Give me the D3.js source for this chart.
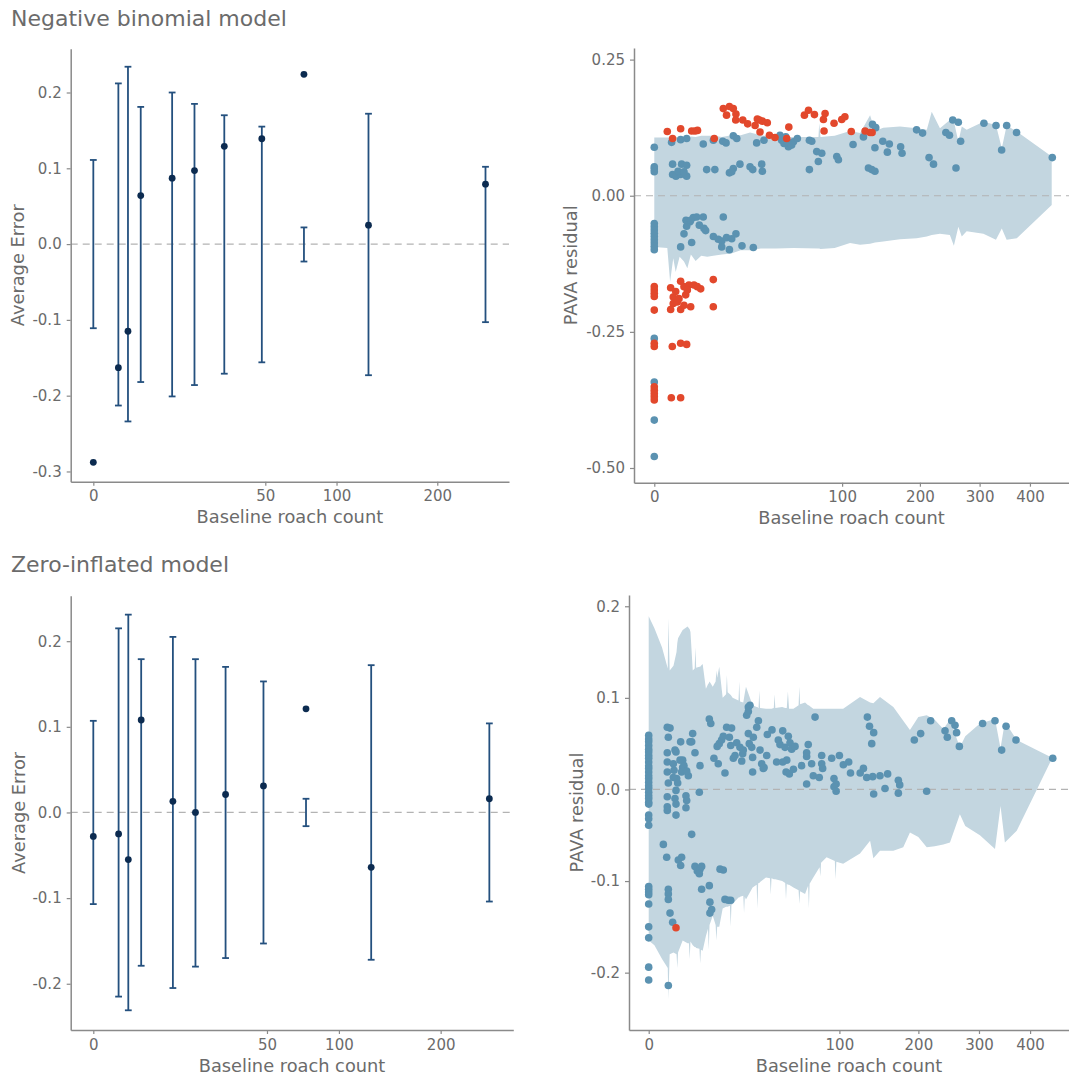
<!DOCTYPE html>
<html><head><meta charset="utf-8">
<script src="https://cdn.jsdelivr.net/npm/d3@7"></script>
<style>
body{margin:0;background:#fff}
svg{display:block}
text{font-family:"DejaVu Sans",sans-serif}
</style></head>
<body><svg id="c" width="1069" height="1076"></svg>
<script>
// ---------------- data ----------------
const binX = [0, 1.06, 2.03, 3.8, 10.5, 17.3, 29, 48, 75, 128, 260];
const nbErr = [-0.288, -0.163, -0.115, 0.064, 0.087, 0.097, 0.129, 0.139, 0.224, 0.025, 0.079];
const nbLo  = [-0.111, -0.213, -0.234, -0.182, -0.201, -0.186, -0.171, -0.156, -0.023, -0.173, -0.103];
const nbHi  = [0.111, 0.212, 0.234, 0.181, 0.200, 0.185, 0.170, 0.155, 0.022, 0.172, 0.102];
const ziErr = [-0.028, -0.025, -0.055, 0.108, 0.013, 0.000, 0.021, 0.031, 0.121, -0.064, 0.016];
const ziLo  = [-0.107, -0.215, -0.231, -0.179, -0.205, -0.180, -0.170, -0.153, -0.016, -0.172, -0.104];
const ziHi  = [0.107, 0.215, 0.231, 0.179, 0.205, 0.179, 0.170, 0.153, 0.016, 0.172, 0.104];

const leftXTicks = [0, 50, 100, 200];
const rightXTicks = [0, 100, 200, 300, 400];
const nbErrTicks = [-0.3, -0.2, -0.1, 0, 0.1, 0.2];
const ziErrTicks = [-0.2, -0.1, 0, 0.1, 0.2];
const nbPavaTicks = [-0.5, -0.25, 0, 0.25];
const ziPavaTicks = [-0.2, -0.1, 0, 0.1, 0.2];

// consistency band, negative binomial
const nbBandX  = [0,0.48,0.71,1.02,1.30,1.82,2.50,3.10,3.80,4.84,6.25,7.95,9.86,12.96,16.81,21.16,26.01,32.15,42.25,54.9,76.4,77.1,78.3,92.2,108.6,120.1,132.0,138.1,148.6,171.1,195.2,210.5,218.2,231.3,247.7,254.4,262.1,268.0,276.6,307.0,330.9,342.3,351.9,372.5,447.7];
const nbBandHi = [.107,.107,.107,.106,.108,.106,.108,.107,.109,.108,.110,.110,.110,.108,.111,.111,.116,.111,.108,.108,.108,.133,.108,.110,.119,.115,.148,.119,.125,.127,.124,.121,.154,.124,.139,.137,.099,.127,.121,.136,.130,.087,.129,.118,.072];
const nbBandLo = [-.094,-.096,-.158,-.115,-.140,-.112,-.121,-.133,-.108,-.120,-.110,-.112,-.110,-.108,-.106,-.100,-.100,-.097,-.097,-.096,-.097,-.097,-.098,-.096,-.087,-.090,-.088,-.086,-.084,-.080,-.078,-.075,-.072,-.070,-.072,-.092,-.057,-.075,-.065,-.070,-.081,-.060,-.081,-.078,-.017];

// consistency band, zero-inflated
const ziBandX  = [0,0.09,0.49,1.00,1.06,1.21,1.69,2.13,2.25,2.37,3.17,4.16,4.45,4.62,4.80,5.34,5.81,6.00,6.20,7.08,7.29,7.51,8.01,9.0,9.67,9.92,10.18,11.29,12.32,12.60,12.89,13.69,15.05,16.48,16.81,17.14,18.15,18.49,18.84,19.36,22.18,22.56,22.94,24.60,25.00,25.40,26.01,29.70,32.04,32.49,32.95,33.18,33.64,34.11,37.82,40.45,40.96,41.47,43.03,43.56,44.09,49.0,51.27,51.84,52.42,53.29,54.17,57.61,61.78,62.41,63.04,67.24,69.89,70.56,71.23,74.5,80.28,81.0,81.72,87.0,95.26,96.04,96.83,104.0,122.8,134.8,138.8,147.1,164.6,178.2,187.7,199.9,212.6,225.0,238.7,249.6,266.3,275.6,301.7,329.8,340.4,348.9,372.5,446.5];
const ziBandHi = [.189,.176,.155,.132,.187,.130,.135,.150,.160,.165,.174,.178,.176,.175,.172,.130,.132,.155,.133,.134,.134,.135,.137,.110,.115,.116,.118,.112,.118,.130,.122,.134,.100,.104,.125,.106,.104,.103,.102,.100,.097,.118,.096,.095,.100,.105,.112,.092,.090,.090,.089,.089,.108,.089,.088,.088,.088,.088,.089,.104,.089,.090,.089,.089,.089,.107,.088,.088,.092,.112,.093,.095,.092,.092,.091,.088,.088,.088,.088,.088,.088,.088,.088,.088,.101,.095,.094,.101,.090,.075,.065,.079,.081,.076,.066,.076,.046,.058,.072,.077,.045,.074,.054,.035];
const ziBandLo = [-.165,-.170,-.185,-.195,-.229,-.180,-.178,-.180,-.195,-.178,-.165,-.168,-.168,-.185,-.166,-.170,-.172,-.172,-.173,-.174,-.190,-.175,-.176,-.160,-.152,-.175,-.148,-.138,-.148,-.165,-.150,-.150,-.130,-.128,-.128,-.128,-.127,-.150,-.126,-.125,-.118,-.118,-.117,-.116,-.135,-.117,-.120,-.107,-.104,-.130,-.103,-.102,-.102,-.101,-.096,-.097,-.115,-.097,-.098,-.098,-.098,-.100,-.102,-.120,-.103,-.104,-.104,-.107,-.110,-.125,-.111,-.114,-.105,-.130,-.103,-.096,-.085,-.095,-.080,-.074,-.078,-.098,-.079,-.081,-.070,-.056,-.075,-.067,-.067,-.063,-.047,-.052,-.063,-.062,-.060,-.058,-.027,-.040,-.050,-.065,-.018,-.058,-.045,.033];

// PAVA residuals inside the band [count, residual], negative binomial
const nbInside = [
[0,.089],[0,.053],[0,.049],[0,.044],[0,-.051],[0,-.057],[0,-.063],[0,-.069],[0,-.075],[0,-.081],[0,-.087],[0,-.093],[0,-.099],[0,-.262],[0,-.342],[0,-.412],[0,-.479],
[0.85,.098],[1.97,.103],[2.97,.105],[6.8,.095],[9.9,.102],[13.3,.100],[14.6,.097],[17.7,.110],[19.3,.105],[29.7,.097],[34.1,.102],[44.8,.111],[46,.102],[47.7,.096],[51,.090],[52.3,.095],[54.9,.099],[58,.105],[49,.108],[50,.100],[53.5,.093],[68.2,.102],[70.3,.100],
[112,.094],[124,.108],[135,.131],[139,.125],[138,.088],[148,.100],[156.6,.095],[154,.080],[172,.090],[174,.078],[195,.121],[204,.115],[214,.070],[221,.058],[241,.116],[247,.111],[252.5,.139],[262,.135],[258,.051],[266,.100],[308,.133],[331,.129],[342,.084],[352,.129],[372,.116],[449,.070],
[74.8,.081],[79.5,.078],[76.3,.063],[68.2,.048],[94.4,.072],[96.1,.066],[130,.051],[134,.048],[138,.045],
[0.95,.058],[0.95,.039],[1.33,.036],[2.12,.058],[1.97,.039],[2.97,.056],[2.97,.036],[7.78,.048],[10.4,.048],[16,.042],[17.7,.050],[20.8,.058],[26,.053],[27.5,.048],[32.7,.058],[33.1,.045],[17,.044],[1.6,.045],[2.5,.044],
[2.5,-.070],[2.97,-.056],[3.61,-.048],[4.32,-.040],[5.09,-.039],[5.75,-.054],[6.8,-.039],[7,-.060],[7.48,-.064],[3.96,-.086],[1.97,-.094],[9.9,-.075],[11.6,-.080],[13.5,-.039],[12.9,-.083],[14.8,-.077],[17,-.079],[18.9,-.070],[16,-.099],[12.9,-.094],[21.8,-.092],[27.8,-.095],[2.85,-.045],[3.75,-.045]
];
// PAVA residuals outside the band, negative binomial
const nbOutside = [
[0.48,.118],[0.95,.105],[1.97,.123],[3.96,.119],[4.7,.119],[5.3,.120],[10.2,.105],[13.5,.160],[14.8,.148],[16,.164],[17.7,.160],[18.9,.150],[18.8,.139],[22.2,.139],[24.7,.132],[28.8,.129],[30.1,.141],[31.3,.139],[33.1,.137],[36.2,.134],[31.7,.117],[37.6,.111],[41.3,.107],[51.3,.126],[49.7,.105],[63.9,.148],[67.4,.157],[72.7,.149],[81.1,.140],[82.7,.151],[81.7,.119],[91.6,.133],[99.6,.140],[103,.145],[110,.118],[126,.119],[132,.116],[134.5,.116],
[0,-.167],[0,-.173],[0,-.179],[0,-.185],[0,-.210],[0,-.271],[0,-.277],[0,-.351],[0,-.357],[0,-.363],[0,-.369],[0,-.375],
[0.76,-.169],[1.02,-.186],[1.02,-.198],[0.76,-.209],[1.30,-.176],[1.50,-.195],[1.97,-.157],[1.97,-.209],[2.5,-.167],[2.8,-.182],[3.4,-.164],[3.76,-.204],[4.47,-.164],[5.24,-.167],[6.1,-.171],[3.1,-.173],[1.73,-.189],[2.5,-.201],[9.87,-.154],[9.87,-.204],
[0.92,-.277],[1.97,-.271],[2.97,-.273],[0.82,-.371],[1.97,-.371]
];

// PAVA residuals inside the band, zero-inflated
const ziInside = [
[0,.059],[0,.055],[0,.052],[0,.048],[0,.044],[0,.041],[0,.037],[0,.034],[0,.030],[0,.026],[0,.023],[0,.019],[0,.015],[0,.012],[0,.008],[0,.004],[0,.001],[0,-.003],[0,-.007],[0,-.010],[0,-.014],[0,-.016],[0,-.028],[0,-.032],[0,-.039],[0,-.106],[0,-.109],[0,-.112],[0,-.115],[0,-.125],[0,-.150],[0,-.162],[0,-.194],[0,-.208],
[0.59,-.060],[0.89,-.074],[0.95,.068],[1.06,.057],[0.95,.040],[0.95,.030],[0.95,.019],[1.06,.007],[0.95,-.008],[0.95,-.019],[0.95,-.023],[1.06,-.109],[1.06,-.114],[1.06,-.120],[1.25,-.135],[1.06,-.214],[1.58,-.145],[1.25,.067],
[1.90,.043],[2.05,.041],[1.76,.021],[2.15,.012],[2.05,-.001],[1.90,-.010],[2.05,-.016],[2.05,-.028],[2.41,-.077],[2.98,-.074],[2.81,-.083],[2.81,.052],[3.17,.032],[3.17,.024],[2.98,.019],[3.43,.026],[3.82,-.007],[3.97,-.012],[3.82,-.020],[4.32,.015],[3.97,.020],[2.70,.032],[1.67,.013],[2.31,.007],[1.67,.028],
[4.69,.052],[5.32,.061],[5.08,.052],[5.89,.040],[5.08,-.049],[5.89,-.084],[6.50,-.089],[7.24,-.087],[7.71,-.084],[7.05,-.092],[7.24,.026],[7.05,-.003],[7.71,-.109],
[10.1,.077],[10.6,.072],[10.1,-.105],[10.3,-.123],[10.3,-.135],[10.9,-.131],[11.7,.034],[12.9,.047],[13.7,.050],[14.6,.054],[13.3,.028],[16.0,.018],[15.3,.058],[16.7,.068],[17.9,.057],[18.5,.048],[19.7,.034],[18.9,.067],[20.5,.037],[22.9,.046],[24.3,.039],[23.8,.031],
[14.0,-.087],[15.3,-.088],[16.0,-.120],[17.4,-.121],[18.5,-.121],[21.3,.051],[24.6,.043],[26.4,.081],[27.3,.090],[28.2,.092],[27.3,.085],[27.3,.061],[27.8,.050],[29.2,.046],[29.7,.035],[29.7,.019],
[32.1,.068],[33.1,.075],[34.1,.043],[35.1,.028],[36.1,.023],[36.6,.024],[38.3,.037],[30.1,.057],[38.7,.060],[41.8,.065],[45.0,.030],[46.2,.054],[47.4,.049],[49.4,.064],[51.1,.046],[52.4,.032],[53.6,.058],[54.9,.051],[56.2,.044],[49.4,.030],[51.9,.019],[54.4,.017],[57.6,.022],[58.9,.047],
[64.3,.026],[68.6,.006],[68.6,.036],[68.6,.040],[70.0,.049],[73.0,.028],[76.1,.079],[74.5,.015],[82.3,.037],[82.3,.028],[83.2,.023],[80.0,.013],[92.1,.034],[94.4,.012],[96.6,.006],[94.4,.003],[96.6,-.002],[100,.037],[104.2,.027],[110,.030],[112,.018],
[123,.018],[130.7,.013],[131.5,.079],[134.1,.069],[136.8,.050],[139.2,.062],[139.2,-.005],[126.8,.023],[138,.014],[147.1,.015],[153.6,.001],[157,.017],[171.4,.010],[173.3,.005],[171.4,-.004],
[194,.054],[203.4,.061],[212.5,-.002],[218.6,.075],[241.5,.064],[245.2,.057],[252.5,.075],[258,.070],[260.7,.062],[265.4,.047],[306.6,.072],[329.8,.075],[342.6,.043],[351.2,.069],[371,.054],[449,.034]
];
// PAVA residuals outside the band, zero-inflated
const ziOutside = [[2.05,-.151]];

// ---------------- drawing ----------------
const svg = d3.select("#c");
const GREY = "#6b6b6b";
const AXIS = "#8a8a8a";

function makeScales(p) {
  return {
    x: d3.scaleSqrt().domain(p.xDom).range([p.left, p.right]),
    y: d3.scaleLinear().domain(p.yDom).range([p.bottom, p.top])
  };
}

function drawAxes(p, s) {
  const gx = svg.append("g").attr("transform", `translate(0,${p.bottom})`)
    .call(d3.axisBottom(s.x).tickValues(p.xTicks).tickFormat(d => String(d))
      .tickSize(4).tickSizeOuter(0).tickPadding(5));
  const gy = svg.append("g").attr("transform", `translate(${p.left},0)`)
    .call(d3.axisLeft(s.y).tickValues(p.yTicks).tickFormat(d => d.toFixed(p.dec))
      .tickSize(4).tickSizeOuter(0).tickPadding(5));
  [gx, gy].forEach(g => {
    g.attr("font-size", null).attr("font-family", null);
    g.select(".domain").attr("stroke", AXIS).attr("stroke-width", 1.5);
    g.selectAll(".tick line").attr("stroke", AXIS).attr("stroke-width", 1.2);
    g.selectAll(".tick text").attr("fill", GREY).style("font-size", "15px");
  });
  svg.append("text").attr("x", (p.left + p.right) / 2).attr("y", p.bottom + 41.5)
    .attr("text-anchor", "middle").attr("fill", GREY).style("font-size", "17.8px")
    .text("Baseline roach count");
  svg.append("text")
    .attr("transform", `translate(${p.yTitleX},${(p.top + p.bottom) / 2}) rotate(-90)`)
    .attr("text-anchor", "middle").attr("fill", GREY).style("font-size", "17.8px")
    .text(p.yTitle);
}

function zeroLine(p, s) {
  svg.append("line").attr("x1", p.left).attr("x2", p.right)
    .attr("y1", s.y(0)).attr("y2", s.y(0))
    .attr("stroke", "#b3b3b3").attr("stroke-width", 1.2).attr("stroke-dasharray", "7,5");
}

function errorPanel(p, err, lo, hi) {
  const s = makeScales(p);
  zeroLine(p, s);
  const g = svg.append("g");
  const d = binX.map((x, i) => ({x, e: err[i], lo: lo[i], hi: hi[i]}));
  const bars = g.selectAll("g.bar").data(d).join("g").attr("class", "bar")
    .attr("stroke", "#24507e").attr("stroke-width", 1.8);
  bars.append("line").attr("x1", v => s.x(v.x)).attr("x2", v => s.x(v.x))
    .attr("y1", v => s.y(v.lo)).attr("y2", v => s.y(v.hi));
  bars.append("line").attr("x1", v => s.x(v.x) - 3.4).attr("x2", v => s.x(v.x) + 3.4)
    .attr("y1", v => s.y(v.lo)).attr("y2", v => s.y(v.lo));
  bars.append("line").attr("x1", v => s.x(v.x) - 3.4).attr("x2", v => s.x(v.x) + 3.4)
    .attr("y1", v => s.y(v.hi)).attr("y2", v => s.y(v.hi));
  g.selectAll("circle").data(d).join("circle")
    .attr("cx", v => s.x(v.x)).attr("cy", v => s.y(v.e)).attr("r", 3.4)
    .attr("fill", "#0c2b50");
  drawAxes(p, s);
}

let clipId = 0;
function pavaPanel(p, bx, blo, bhi, inside, outside) {
  const s = makeScales(p);
  const id = "clip" + (clipId++);
  svg.append("clipPath").attr("id", id).append("rect")
    .attr("x", p.left).attr("y", p.top).attr("width", p.right - p.left).attr("height", p.bottom - p.top);
  const g = svg.append("g").attr("clip-path", `url(#${id})`);
  const band = bx.map((x, i) => ({x, lo: blo[i], hi: bhi[i]}));
  g.append("path").datum(band)
    .attr("d", d3.area().x(v => s.x(v.x)).y0(v => s.y(v.lo)).y1(v => s.y(v.hi)))
    .attr("fill", "#c3d6e0");
  zeroLine(p, s);
  const g2 = svg.append("g").attr("clip-path", `url(#${id})`);
  g2.selectAll("circle.in").data(inside).join("circle").attr("class", "in")
    .attr("cx", v => s.x(v[0])).attr("cy", v => s.y(v[1])).attr("r", 3.8)
    .attr("fill", "#5b92b1");
  g2.selectAll("circle.out").data(outside).join("circle").attr("class", "out")
    .attr("cx", v => s.x(v[0])).attr("cy", v => s.y(v[1])).attr("r", 3.8)
    .attr("fill", "#e2482c");
  drawAxes(p, s);
}

// titles
svg.append("text").attr("x", 11).attr("y", 25.5).attr("fill", GREY)
  .style("font-size", "22px").text("Negative binomial model");
svg.append("text").attr("x", 11).attr("y", 572).attr("fill", GREY)
  .style("font-size", "22px").text("Zero-inflated model");

errorPanel({left: 70.7, right: 509, top: 48.7, bottom: 481.7, xDom: [-0.865, 292.1], yDom: [-0.3135, 0.2578],
  xTicks: leftXTicks, yTicks: nbErrTicks, dec: 1, yTitle: "Average Error", yTitleX: 24}, nbErr, nbLo, nbHi);
errorPanel({left: 70.7, right: 513.3, top: 595.8, bottom: 1030, xDom: [-0.847, 292.4], yDom: [-0.254, 0.253],
  xTicks: leftXTicks, yTicks: ziErrTicks, dec: 1, yTitle: "Average Error", yTitleX: 25}, ziErr, ziLo, ziHi);
pavaPanel({left: 634, right: 1069, top: 48, bottom: 482.7, xDom: [-1.166, 487.5], yDom: [-0.527, 0.2713],
  xTicks: rightXTicks, yTicks: nbPavaTicks, dec: 2, yTitle: "PAVA residual", yTitleX: 577},
  nbBandX, nbBandLo, nbBandHi, nbInside, nbOutside);
pavaPanel({left: 629, right: 1069, top: 595, bottom: 1030, xDom: [-1.067, 485.8], yDom: [-0.2626, 0.2123],
  xTicks: rightXTicks, yTicks: ziPavaTicks, dec: 1, yTitle: "PAVA residual", yTitleX: 583},
  ziBandX, ziBandLo, ziBandHi, ziInside, ziOutside);
</script>
</body></html>
